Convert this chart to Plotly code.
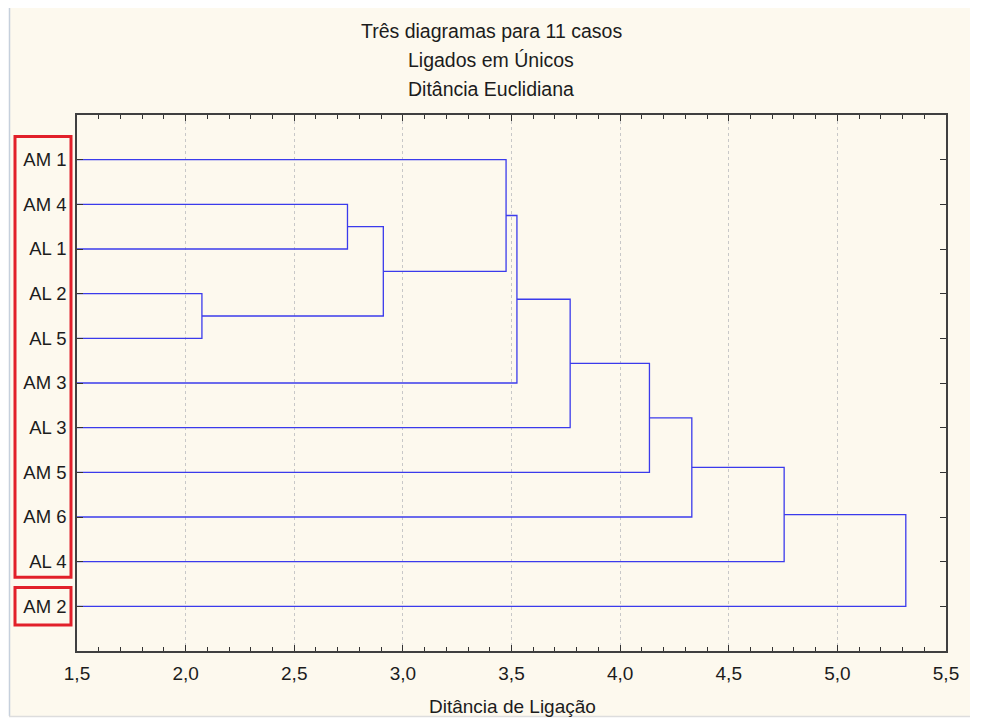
import plotly.graph_objects as go

# ---- data ----
leaves = ["AM 1", "AM 4", "AL 1", "AL 2", "AL 5", "AM 3", "AL 3", "AM 5", "AM 6", "AL 4", "AM 2"]
# linkage: node ids 0..10 are leaves (in display order), 11.. are clusters
merge_a = [3, 1, 12, 0, 14, 15, 16, 17, 18, 19]
merge_b = [4, 2, 11, 13, 5, 6, 7, 8, 9, 10]
merge_height = [2.075, 2.745, 2.91, 3.475, 3.525, 3.77, 4.135, 4.33, 4.755, 5.315]
x_ticks = [1.5, 2.0, 2.5, 3.0, 3.5, 4.0, 4.5, 5.0, 5.5]
x_ticktext = ["1,5", "2,0", "2,5", "3,0", "3,5", "4,0", "4,5", "5,0", "5,5"]
title_lines = ["Três diagramas para 11 casos", "Ligados em Únicos", "Ditância Euclidiana"]
x_title = "Ditância de Ligação"

# ---- build dendrogram path ----
n = len(leaves)
pos = {i: i + 1 for i in range(n)}
hgt = {i: 0.0 for i in range(n)}
xs, ys = [], []
for k, (a, b, h) in enumerate(zip(merge_a, merge_b, merge_height)):
    node = n + k
    xs += [hgt[a], h, h, hgt[b], None]
    ys += [pos[a], pos[a], pos[b], pos[b], None]
    pos[node] = (pos[a] + pos[b]) / 2
    hgt[node] = h

fig = go.Figure()
fig.add_trace(go.Scatter(x=xs, y=ys, mode="lines",
                         line=dict(color="#3b3bec", width=1.3),
                         hoverinfo="skip", showlegend=False))

FONT = "Liberation Sans, Arial, sans-serif"
TXT = "#1c1c1c"
# page has an 8px body margin; figure is sized/offset to compensate
OFF = 8
W, H = 998 - OFF, 720 - OFF
L, R, T, B = 77 - OFF, 52, 115 - OFF, 69
pw, ph = W - L - R, H - T - B

def px(x):  # reference-page pixel -> paper x
    return (x - OFF - L) / pw

def py(y):  # reference-page pixel -> paper y
    return (H - B - (y - OFF)) / ph

shapes = [
    dict(type="rect", xref="paper", yref="paper", x0=px(9), x1=px(970), y0=py(716), y1=py(7),
         fillcolor="#fdf9ee", line=dict(width=0), layer="below"),
    dict(type="line", xref="paper", yref="paper", x0=px(9.5), x1=px(9.5), y0=py(716), y1=py(7),
         line=dict(color="#c6d0dc", width=1.5), layer="below"),
    dict(type="line", xref="paper", yref="paper", x0=px(9), x1=px(970), y0=py(716.5), y1=py(716.5),
         line=dict(color="#dddddd", width=1.5), layer="below"),
    dict(type="rect", xref="paper", yref="y", x0=px(15), x1=px(71), y0=0.48, y1=10.35,
         line=dict(color="#e2202a", width=3)),
    dict(type="rect", xref="paper", yref="y", x0=px(15), x1=px(71), y0=10.58, y1=11.42,
         line=dict(color="#e2202a", width=3)),
]

annotations = []
for i, t in enumerate(title_lines):
    annotations.append(dict(text=t, xref="paper", yref="paper", x=px(491), y=py(31 + 29 * i),
                            showarrow=False, xanchor="center", yanchor="middle",
                            font=dict(family=FONT, size=19.5, color=TXT)))
annotations.append(dict(text=x_title, xref="paper", yref="paper", x=px(512), y=py(706),
                        showarrow=False, xanchor="center", yanchor="middle",
                        font=dict(family=FONT, size=19, color=TXT)))

fig.update_layout(
    width=W, height=H,
    margin=dict(l=L, r=R, t=T, b=B, pad=0),
    paper_bgcolor="white", plot_bgcolor="white",
    shapes=shapes, annotations=annotations,
    font=dict(family=FONT, size=19, color=TXT),
)
fig.update_xaxes(
    range=[1.5, 5.5], tickvals=x_ticks, ticktext=x_ticktext,
    ticks="inside", ticklen=6, tickcolor="#333333", tickwidth=1,
    showline=True, linecolor="#404040", linewidth=1.5, mirror="ticks",
    showgrid=True, gridcolor="#c8c8c8", griddash="dot", gridwidth=1,
    minor=dict(dtick=0.1, ticks="inside", ticklen=4, tickcolor="#333333", showgrid=False),
    zeroline=False, tickfont=dict(size=19, color=TXT), ticklabelstandoff=4,
)
fig.update_yaxes(
    range=[12, 0], tickvals=list(range(1, n + 1)), ticktext=leaves,
    ticks="inside", ticklen=6, tickcolor="#333333",
    showline=True, linecolor="#404040", linewidth=1.5, mirror="ticks",
    showgrid=False, zeroline=False, tickfont=dict(size=18.5, color=TXT),
    ticklabelstandoff=5,
)

fig.write_html("out.html")
